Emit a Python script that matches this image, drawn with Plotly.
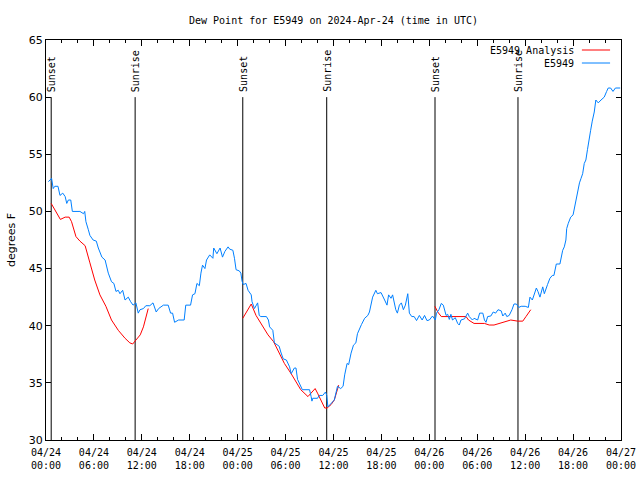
import pandas as pd
import plotly.graph_objects as go

BASE = "2024-04-24 00:00"

# E5949 observations: hours after 04/24 00:00 UTC, dew point (F)
obs_hours = [0.3, 0.7, 0.9, 1.1, 1.5, 1.75, 2.1, 2.4, 2.6, 2.8, 3.1, 3.3, 4.25, 4.7, 4.85, 5.0, 5.3, 5.5, 5.9,
             6.3, 6.55, 7.0, 7.4, 7.6, 7.8, 8.2, 8.5, 8.76, 9.05, 9.26, 9.6, 9.9, 10.3, 10.6, 10.9, 11.26, 11.55,
             11.77, 12.2, 12.5, 13.0, 13.4, 13.8, 14.1, 14.7, 15.3, 15.6, 15.85, 16.1, 16.6, 17.3, 17.5, 18.1,
             18.35, 18.65, 18.9, 19.2, 19.4, 19.6, 19.9, 20.1, 20.5, 20.9, 21.0, 21.4, 21.8, 22.1, 22.4, 22.8,
             23.0, 23.4, 23.6, 23.8, 24.2, 24.4, 24.55, 24.7, 25.05, 25.3, 25.7, 25.8, 26.1, 26.5, 26.7, 26.9,
             27.6, 27.85, 28.0, 28.4, 28.6, 29.0, 29.2, 29.4, 29.7, 30.1, 30.5, 30.7, 31.1, 31.3, 31.5, 32.1,
             33.0, 33.2, 33.3, 33.4, 34.0, 34.2, 34.65, 35.0, 35.15, 35.3, 35.7, 36.1, 36.5, 36.9, 37.2, 37.4,
             37.7, 37.9, 38.2, 38.5, 38.8, 39.0, 39.5, 39.9, 40.3, 40.5, 40.9, 41.3, 41.5, 41.95, 42.4, 42.7,
             42.9, 43.2, 43.4, 43.6, 43.8, 44.0, 44.25, 44.5, 44.75, 45.0, 45.3, 45.5, 45.8, 46.1, 46.4, 46.75,
             47.1, 47.4, 47.7, 48.0, 48.4, 48.75, 48.9, 49.2, 49.5, 49.75, 50.1, 50.3, 50.5, 50.7, 50.9, 51.25,
             51.55, 51.75, 51.96, 52.4, 52.8, 53.0, 53.4, 53.6, 54.05, 54.3, 54.7, 54.9, 55.1, 55.3, 55.7, 56.0,
             56.3, 56.6, 57.0, 57.2, 57.5, 57.7, 58.0, 58.35, 58.6, 58.9, 59.2, 59.5, 60.0, 60.4, 60.6, 60.9,
             61.1, 61.4, 61.6, 61.85, 62.2, 62.4, 62.8, 63.1, 63.4, 63.6, 63.9, 64.35, 64.7, 64.9, 65.1, 65.2,
             65.4, 65.7, 66.0, 66.2, 66.4, 66.6, 66.8, 67.0, 67.2, 67.4, 67.6, 67.8, 68.0, 68.2, 68.4, 68.65,
             68.85, 69.15, 69.5, 69.9, 70.2, 70.4, 70.7, 71.0, 71.3, 71.7, 71.9]
obs_values = [52.6, 52.9, 52.0, 52.2, 52.2, 51.4, 51.6, 51.3, 50.7, 51.0, 51.0, 50.0, 50.0, 49.8, 50.0, 49.1, 48.4,
              47.9, 47.5, 47.4, 46.8, 46.0, 45.75, 45.0, 44.6, 43.85, 43.7, 43.0, 43.1, 42.8, 43.1, 42.25, 42.5,
              42.1, 41.8, 42.0, 41.1, 41.4, 41.5, 41.75, 41.75, 42.0, 41.2, 41.5, 41.8, 41.8, 41.1, 41.1, 40.3,
              40.5, 40.5, 41.8, 41.8, 42.7, 42.8, 43.7, 43.5, 44.6, 45.3, 45.0, 45.75, 46.2, 45.9, 46.8, 46.3,
              46.8, 46.0, 46.5, 46.9, 46.7, 46.6, 45.9, 44.9, 44.8, 44.6, 43.9, 43.6, 43.7, 43.1, 42.7, 42.1,
              41.5, 42.0, 40.9, 40.8, 40.8, 40.5, 39.9, 39.6, 38.5, 38.3, 38.2, 37.7, 37.1, 37.0, 36.4, 35.8,
              36.3, 36.3, 35.3, 34.4, 34.4, 33.8, 33.4, 33.65, 33.65, 33.9, 33.9, 34.2, 33.9, 32.9, 33.2, 33.5,
              34.7, 34.5, 34.7, 35.7, 36.7, 36.6, 37.6, 38.3, 38.5, 39.3, 40.1, 40.65, 40.9, 41.2, 42.5, 43.1,
              42.8, 42.9, 42.25, 41.8, 42.7, 42.4, 42.7, 42.0, 41.4, 41.1, 41.8, 42.0, 41.4, 41.8, 42.8, 41.1,
              40.8, 40.8, 40.45, 40.9, 40.5, 40.9, 40.45, 40.5, 40.85, 40.5, 41.1, 41.4, 41.95, 41.8, 40.9, 41.0,
              40.55, 41.0, 40.5, 40.7, 40.2, 40.06, 40.5, 40.6, 41.1, 40.8, 40.5, 40.65, 40.5, 41.1, 41.1, 40.5,
              40.3, 40.8, 40.85, 41.2, 41.1, 41.4, 41.3, 40.85, 41.1, 40.8, 40.9, 41.4, 41.9, 41.9, 41.6, 41.7,
              41.7, 41.6, 42.5, 42.25, 42.7, 43.3, 43.0, 42.5, 43.4, 42.8, 43.6, 44.15, 44.4, 44.4, 45.4, 45.4,
              46.6, 46.9, 47.5, 48.5, 48.96, 49.5, 49.7, 50.4, 51.0, 51.9, 52.5, 52.9, 53.3, 54.2, 54.5, 55.4,
              56.4, 57.1, 57.9, 58.7, 59.75, 59.5, 59.75, 60.0, 60.5, 60.8, 60.8, 60.5, 60.8, 60.8, 60.8]

# E5949 Analysis (three overnight segments, None = gap)
ana_hours = [0.65, 1.1, 1.8, 2.4, 2.9, 3.2, 3.75, 4.25, 4.9, 5.5, 6.1, 6.75, 7.5, 8.2, 9.05, 9.9, 10.5, 10.85,
             11.26, 11.8, 12.2, 12.8, 18.0,
             24.64, 25.3, 25.7, 26.3, 27.15, 27.8, 28.5, 29.2, 29.85, 30.7, 31.3, 31.9, 32.8, 33.2, 33.7, 34.0,
             34.9, 35.2, 35.7, 36.1, 36.65, 42.0,
             48.7, 49.05, 49.5, 50.1, 50.7, 51.55, 52.6, 52.9, 53.6, 54.9, 55.5, 56.1, 56.75, 57.6, 58.2, 59.06,
             59.7, 60.1, 60.7]
ana_values = [50.7, 50.1, 49.3, 49.5, 49.5, 49.1, 47.8, 47.4, 47.0, 45.5, 44.0, 42.7, 41.7, 40.5, 39.6, 38.9, 38.5,
              38.4, 38.75, 39.2, 39.9, 41.5, None,
              40.65, 41.4, 41.9, 40.9, 39.9, 39.2, 38.6, 37.6, 36.7, 35.8, 35.1, 34.4, 33.8, 34.1, 34.5, 34.1,
              32.8, 32.8, 33.1, 33.5, 34.8, None,
              41.7, 41.2, 40.8, 40.8, 40.85, 40.8, 40.8, 40.5, 40.2, 40.2, 40.06, 40.06, 40.2, 40.4, 40.5, 40.4,
              40.4, 40.8, 41.4]

# Sunset / sunrise times (hours after base)
sun_hours = [0.65, 11.16, 24.64, 35.15, 48.71, 59.1]
sun_labels = ["Sunset", "Sunrise", "Sunset", "Sunrise", "Sunset", "Sunrise"]
sun_line_bottom = 30
sun_line_top = 60

tick_hours = [0, 6, 12, 18, 24, 30, 36, 42, 48, 54, 60, 66, 72]
tick_labels = ["04/24<br>00:00", "04/24<br>06:00", "04/24<br>12:00", "04/24<br>18:00",
               "04/25<br>00:00", "04/25<br>06:00", "04/25<br>12:00", "04/25<br>18:00",
               "04/26<br>00:00", "04/26<br>06:00", "04/26<br>12:00", "04/26<br>18:00",
               "04/27<br>00:00"]

base = pd.Timestamp(BASE)
def to_t(hs):
    return [base + pd.Timedelta(hours=h) for h in hs]

MONO = "DejaVu Sans Mono"
SANS = "DejaVu Sans"
RED = "#ff0000"
BLUE = "#0080ff"

fig = go.Figure()

# sunrise/sunset vertical lines
sx, sy = [], []
for t in to_t(sun_hours):
    sx += [t, t, None]
    sy += [sun_line_bottom, sun_line_top, None]
fig.add_trace(go.Scatter(x=sx, y=sy, mode="lines", line=dict(color="black", width=1),
                         showlegend=False, hoverinfo="skip"))

fig.add_trace(go.Scatter(x=to_t(ana_hours), y=ana_values, mode="lines", name="E5949 Analysis",
                         line=dict(color=RED, width=1), connectgaps=False, showlegend=False))
fig.add_trace(go.Scatter(x=to_t(obs_hours), y=obs_values, mode="lines", name="E5949",
                         line=dict(color=BLUE, width=1), showlegend=False))

for t, lab in zip(to_t(sun_hours), sun_labels):
    fig.add_annotation(x=t, y=sun_line_top, xref="x", yref="y", text=lab, textangle=-90,
                       showarrow=False, xanchor="center", yanchor="bottom", yshift=3,
                       font=dict(family=MONO, size=10, color="black"))

# manual legend (text right-aligned, sample line to its right)
legend_rows = [("E5949 Analysis", RED, 0.975), ("E5949", BLUE, 0.9425)]
for text, col, yy in legend_rows:
    fig.add_annotation(x=0.922, y=yy, xref="paper", yref="paper", text=text, showarrow=False,
                       xanchor="right", yanchor="middle", font=dict(family=MONO, size=10, color="black"))
    fig.add_shape(type="line", xref="paper", yref="paper", x0=0.932, x1=0.981, y0=yy, y1=yy,
                  line=dict(color=col, width=1))

# y-axis label
fig.add_annotation(x=-35 / 575, y=0.5, xref="paper", yref="paper", text="degrees F", textangle=-90,
                   showarrow=False, xanchor="center", yanchor="middle",
                   font=dict(family=SANS, size=11, color="black"))

fig.update_layout(
    width=640, height=480,
    margin=dict(l=46, r=19, t=40, b=40, autoexpand=False),
    paper_bgcolor="white", plot_bgcolor="white",
    title=dict(text="Dew Point for E5949 on 2024-Apr-24 (time in UTC)", x=0.5, xref="paper",
               xanchor="center", y=1 - 20 / 480, yanchor="middle",
               font=dict(family=MONO, size=10, color="black")),
    showlegend=False,
)
fig.update_xaxes(
    type="date", range=[to_t([0])[0], to_t([72])[0]], automargin=False,
    tickvals=to_t(tick_hours), ticktext=tick_labels,
    ticks="inside", ticklen=6, tickwidth=1, tickcolor="black",
    showline=True, linecolor="black", linewidth=1, mirror="ticks",
    showgrid=False, zeroline=False, ticklabelstandoff=3,
    minor=dict(dtick=2 * 3600 * 1000, tick0=BASE, ticks="inside", ticklen=3,
               tickcolor="black", showgrid=False),
    tickfont=dict(family=MONO, size=10, color="black"),
)
fig.update_yaxes(
    range=[30, 65], dtick=5, tick0=30, automargin=False,
    ticks="inside", ticklen=5, tickwidth=1, tickcolor="black",
    showline=True, linecolor="black", linewidth=1, mirror="ticks",
    showgrid=False, zeroline=False,
    tickfont=dict(family=SANS, size=11, color="black"),
)

fig.write_html("out.html", config={"displayModeBar": False},
               post_script="document.body.style.margin='0';")
